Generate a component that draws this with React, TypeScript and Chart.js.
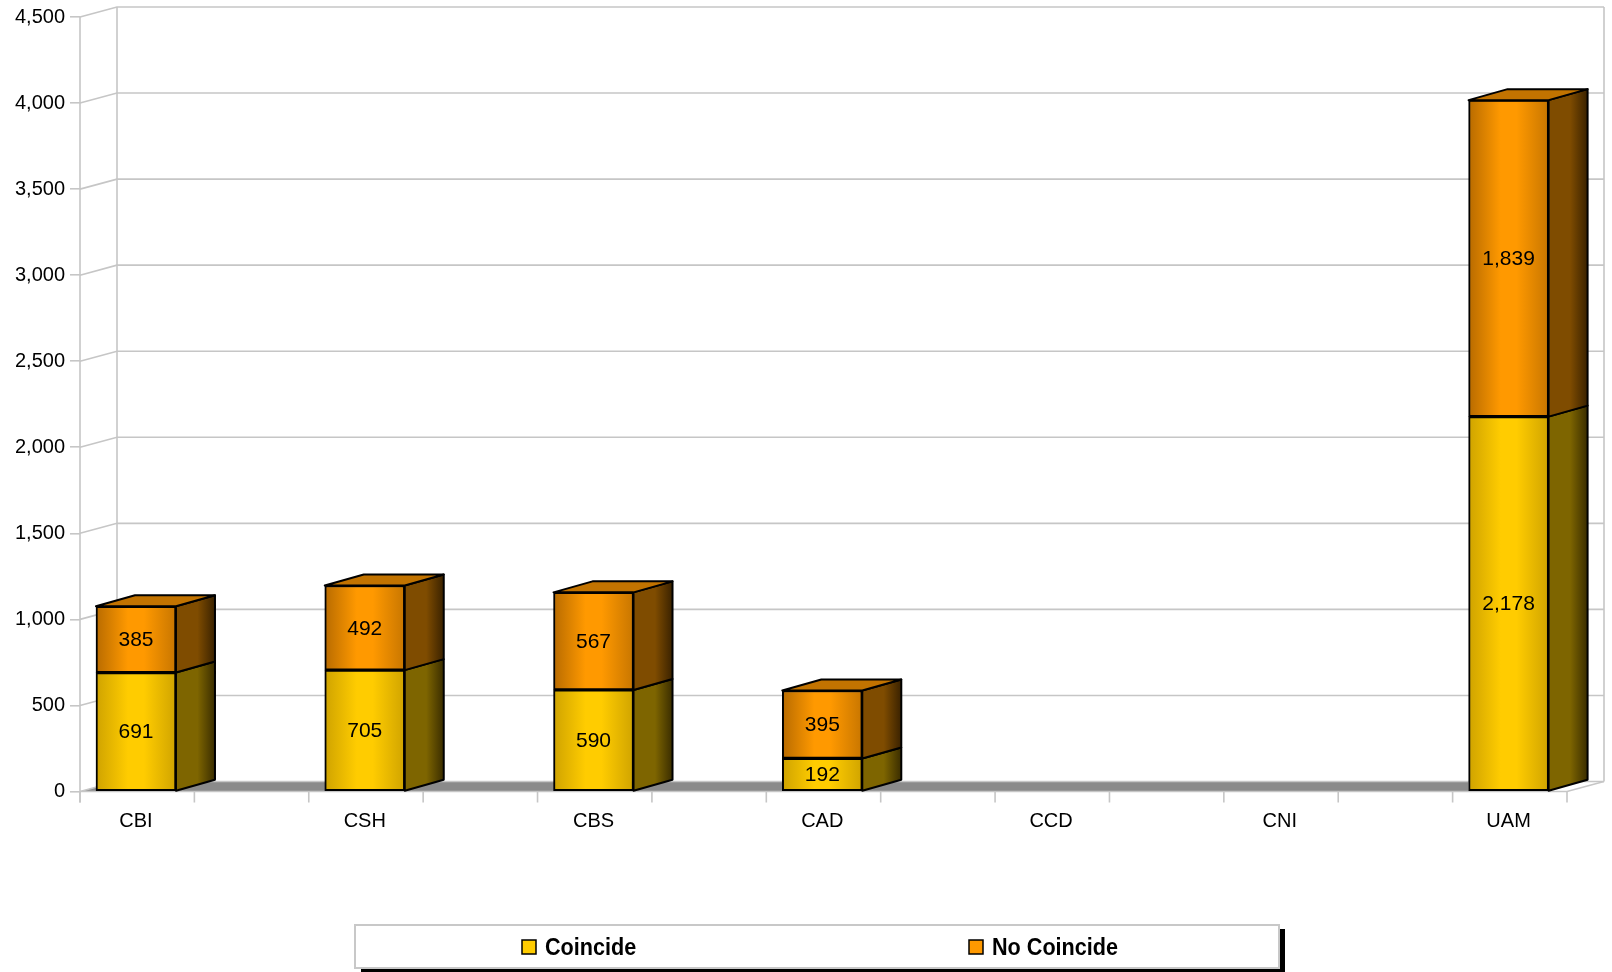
import React, { useEffect, useRef } from 'react';
import { Chart, registerables } from 'chart.js';

Chart.register(...registerables);

const categories = ['CBI', 'CSH', 'CBS', 'CAD', 'CCD', 'CNI', 'UAM'];
const coincide = [691, 705, 590, 192, 0, 0, 2178];
const noCoincide = [385, 492, 567, 395, 0, 0, 1839];
const seriesNames = ['Coincide', 'No Coincide'];
const yMax = 4500;
const yStep = 500;

const W = 1612;
const H = 972;
const WALL_DX = 37;
const WALL_DY = -10;
const BAR_DX = 39;
const BAR_DY = -11;
const BAR_W = 80;
const FONT = "'Liberation Sans', Arial, sans-serif";
const GRID = '#c6c6c6';

const palettes = [
  { front: ['#cfa300', '#ffcc00', '#ffcc00', '#d0a400'], side: ['#7e6500', '#3a2d00'], top: '#b08a00', legend: '#ffcc00' },
  { front: ['#b86b00', '#ff9900', '#ff9900', '#c87600'], side: ['#7f4c00', '#3a2200'], top: '#c27300', legend: '#ff9900' },
];

const seriesValues = [coincide, noCoincide];

const wallPlugin = {
  id: 'walls3d',
  beforeDatasetsDraw(chart: any) {
    const { ctx, chartArea } = chart;
    const ys = chart.scales.y;
    const xs = chart.scales.x;
    const L = chartArea.left;
    const R = chartArea.right;
    const T = chartArea.top;
    const B = chartArea.bottom;
    ctx.save();
    const lastLeft = xs.getPixelForValue(categories.length - 1) - BAR_W / 2;
    ctx.save();
    ctx.beginPath();
    ctx.rect(0, 0, lastLeft, H);
    ctx.clip();
    ctx.beginPath();
    ctx.moveTo(L, B);
    ctx.lineTo(L + WALL_DX, B + WALL_DY);
    ctx.lineTo(R + WALL_DX, B + WALL_DY);
    ctx.lineTo(R, B);
    ctx.closePath();
    ctx.fillStyle = '#8a8a8a';
    ctx.fill();
    ctx.restore();

    ctx.strokeStyle = GRID;
    ctx.lineWidth = 1.6;
    for (let v = 0; v <= yMax; v += yStep) {
      const y = ys.getPixelForValue(v);
      ctx.beginPath();
      ctx.moveTo(L, y);
      ctx.lineTo(L + WALL_DX, y + WALL_DY);
      ctx.lineTo(R + WALL_DX, y + WALL_DY);
      ctx.stroke();
    }
    ctx.beginPath();
    ctx.moveTo(L + WALL_DX, T + WALL_DY);
    ctx.lineTo(L + WALL_DX, B + WALL_DY);
    ctx.moveTo(R + WALL_DX, T + WALL_DY);
    ctx.lineTo(R + WALL_DX, B + WALL_DY);
    ctx.moveTo(L, T);
    ctx.lineTo(L, B + 11);
    ctx.moveTo(L, B);
    ctx.lineTo(R, B);
    ctx.lineTo(R + WALL_DX, B + WALL_DY);
    ctx.stroke();
    const start = xs.min;
    ctx.beginPath();
    for (let k = 0; k <= categories.length * 2; k++) {
      const v = start + k * 0.5;
      if (v > xs.max + 1e-6) break;
      const x = xs.getPixelForValue(v);
      ctx.moveTo(x, B);
      ctx.lineTo(x, B + 11);
    }
    ctx.stroke();
    ctx.restore();
  },
  afterDatasetsDraw(chart: any) {
    const { ctx } = chart;
    ctx.save();
    ctx.lineJoin = 'round';
    for (let d = 0; d < chart.data.datasets.length; d++) {
      const meta = chart.getDatasetMeta(d);
      const pal = palettes[d];
      meta.data.forEach((el: any, i: number) => {
        const val = seriesValues[d][i];
        if (!val) return;
        const p = el.getProps(['x', 'y', 'base', 'width'], true);
        const left = p.x - p.width / 2;
        const right = p.x + p.width / 2;
        const top = Math.min(p.y, p.base);
        const bottom = Math.max(p.y, p.base);
        const sg = ctx.createLinearGradient(right, 0, right + BAR_DX, 0);
        sg.addColorStop(0, pal.side[0]);
        sg.addColorStop(0.55, pal.side[0]);
        sg.addColorStop(1, pal.side[1]);
        ctx.beginPath();
        ctx.moveTo(right, top);
        ctx.lineTo(right + BAR_DX, top + BAR_DY);
        ctx.lineTo(right + BAR_DX, bottom + BAR_DY);
        ctx.lineTo(right, bottom);
        ctx.closePath();
        ctx.fillStyle = sg;
        ctx.fill();
        ctx.strokeStyle = '#000';
        ctx.lineWidth = 2;
        ctx.stroke();
        let topmost = true;
        for (let e = d + 1; e < seriesValues.length; e++) if (seriesValues[e][i]) topmost = false;
        if (topmost) {
          ctx.beginPath();
          ctx.moveTo(left, top);
          ctx.lineTo(left + BAR_DX, top + BAR_DY);
          ctx.lineTo(right + BAR_DX, top + BAR_DY);
          ctx.lineTo(right, top);
          ctx.closePath();
          ctx.fillStyle = pal.top;
          ctx.fill();
          ctx.stroke();
        }
        ctx.fillStyle = '#000';
        ctx.font = `21px ${FONT}`;
        ctx.textAlign = 'center';
        ctx.textBaseline = 'middle';
        ctx.fillText(val.toLocaleString('en-US'), p.x, (top + bottom) / 2 + 1);
      });
    }
    ctx.restore();
  },
  afterDraw(chart: any) {
    const { ctx } = chart;
    const bx = 355, by = 925, bw = 924, bh = 43;
    ctx.save();
    ctx.fillStyle = '#000';
    ctx.fillRect(bx + 6, by + 4, bw, bh);
    ctx.fillStyle = '#fff';
    ctx.fillRect(bx, by, bw, bh);
    ctx.strokeStyle = '#c8c8c8';
    ctx.lineWidth = 2;
    ctx.strokeRect(bx, by, bw, bh);
    ctx.textBaseline = 'middle';
    ctx.textAlign = 'left';
    const pitch = 447;
    const startX = bx + 167;
    const cy = by + bh / 2 + 0.5;
    seriesNames.forEach((name, i) => {
      const x0 = startX + i * pitch;
      ctx.fillStyle = palettes[i].legend;
      ctx.fillRect(x0, cy - 7, 14, 14);
      ctx.strokeStyle = '#000';
      ctx.lineWidth = 1.5;
      ctx.strokeRect(x0, cy - 7, 14, 14);
      ctx.fillStyle = '#000';
      ctx.save();
      ctx.translate(x0 + 23, cy + 1);
      ctx.scale(0.9, 1);
      ctx.font = `bold 24px ${FONT}`;
      ctx.fillText(name, 0, 0);
      ctx.restore();
    });
    ctx.restore();
  },
};

export default function App() {
  const ref = useRef<HTMLCanvasElement | null>(null);
  useEffect(() => {
    document.body.style.margin = '0';
    document.body.style.overflow = 'hidden';
    const canvas = ref.current;
    if (!canvas) return;
    Chart.defaults.font.family = FONT;
    const frontGradient = (d: number) => (c: any) => {
      const chart = c.chart;
      if (c.raw && !c.raw.y) return 'rgba(0,0,0,0)';
      if (!chart.chartArea || c.dataIndex === undefined) return palettes[d].front[1];
      const xc = chart.scales.x.getPixelForValue(c.dataIndex);
      const g = chart.ctx.createLinearGradient(xc - BAR_W / 2, 0, xc + BAR_W / 2, 0);
      g.addColorStop(0, palettes[d].front[0]);
      g.addColorStop(0.4, palettes[d].front[1]);
      g.addColorStop(0.6, palettes[d].front[2]);
      g.addColorStop(1, palettes[d].front[3]);
      return g;
    };
    const chart = new Chart(canvas, {
      type: 'bar',
      data: {
        datasets: seriesNames.map((name, d) => ({
          label: name,
          data: seriesValues[d].map((v, i) => ({ x: i, y: v })),
          backgroundColor: frontGradient(d),
          borderColor: (c: any) => (c.raw && c.raw.y ? '#000' : 'rgba(0,0,0,0)'),
          borderWidth: (c: any) => (c.raw && c.raw.y ? 2 : 0),
          borderSkipped: false,
          barThickness: BAR_W,
        })),
      },
      options: {
        responsive: false,
        animation: false,
        layout: { padding: { top: 17, right: 45, bottom: 0, left: 0 } },
        plugins: { legend: { display: false }, tooltip: { enabled: false } },
        scales: {
          x: {
            type: 'linear',
            stacked: true,
            offset: false,
            bounds: 'data',
            min: -0.2447,
            max: 6.2553,
            grid: { display: true, offset: false, drawOnChartArea: false, drawTicks: false, color: 'rgba(0,0,0,0)' },
            border: { display: false },
            ticks: {
              autoSkip: false,
              maxRotation: 0,
              padding: 18,
              color: '#000',
              font: { size: 20, family: FONT },
              callback: (v: any) => categories[Math.round(Number(v))] ?? '',
            },
            afterBuildTicks: (scale: any) => {
              scale.ticks = categories.map((_, i) => ({ value: i }));
            },
            afterFit: (scale: any) => {
              scale.height = H - 791.5;
            },
          },
          y: {
            stacked: true,
            min: 0,
            max: yMax,
            grid: { display: true, drawOnChartArea: false, drawTicks: true, tickLength: 10, color: GRID, lineWidth: 1.6 },
            border: { display: false },
            ticks: {
              stepSize: yStep,
              padding: 5,
              color: '#000',
              font: { size: 20, family: FONT },
            },
            afterFit: (scale: any) => {
              scale.width = 80;
            },
          },
        },
      },
      plugins: [wallPlugin],
    } as any);
    return () => chart.destroy();
  }, []);
  return (
    <div style={{ position: 'absolute', left: 0, top: 0, width: W, height: H, background: '#fff' }}>
      <canvas ref={ref} width={W} height={H} style={{ width: W, height: H, display: 'block' }} />
    </div>
  );
}
